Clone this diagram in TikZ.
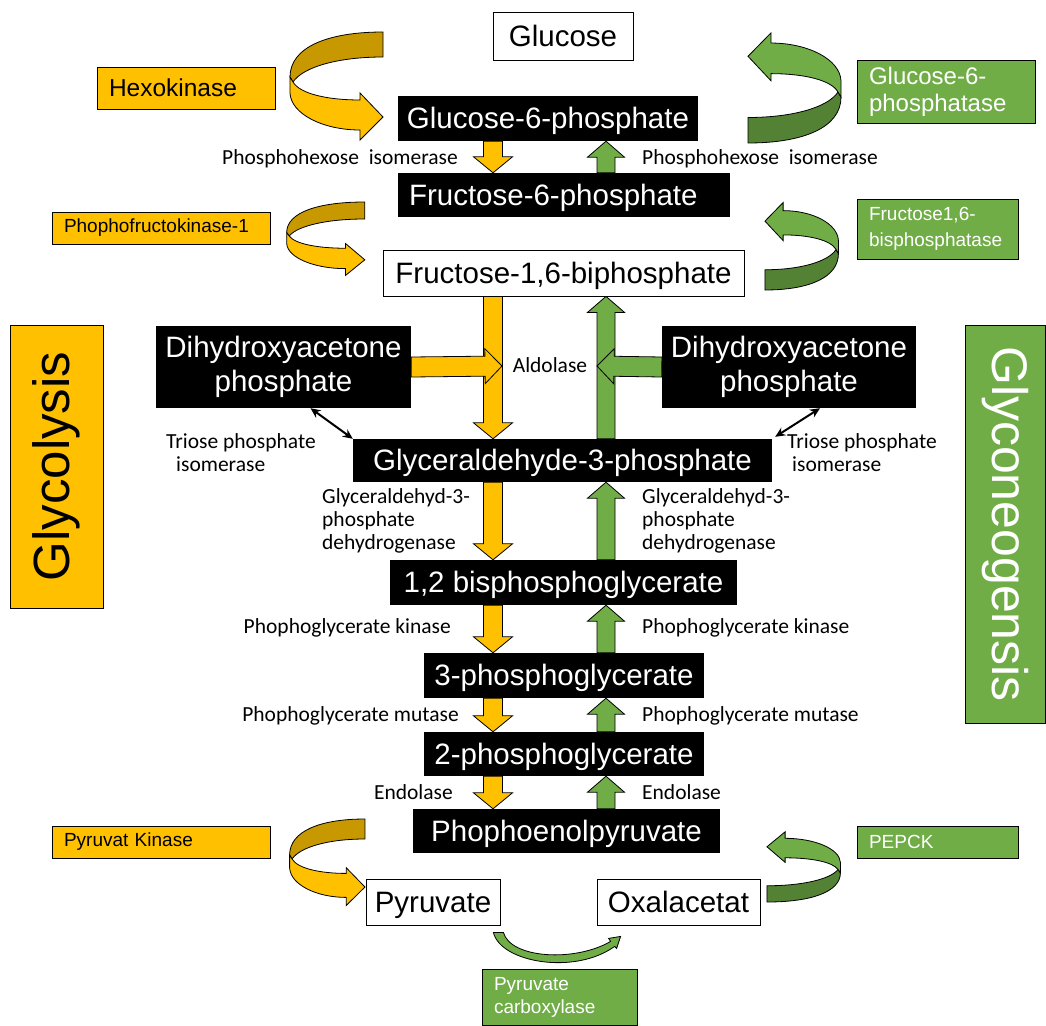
\documentclass[tikz,border=0pt]{standalone}
\usepackage{fontspec}
\setmainfont{Liberation Sans}
\newfontfamily\lblfont{Carlito}
\usepackage{tikz}
\usetikzlibrary{calc}
\usetikzlibrary{arrows.meta}

\definecolor{orng}{HTML}{FFC000}
\definecolor{orngdark}{RGB}{200,152,0}
\definecolor{grn}{HTML}{70AD47}
\definecolor{grndark}{HTML}{548235}

\tikzset{
  metab/.style={inner sep=0pt, align=center, font=\fontsize{29.5}{34}\selectfont},
  oneline/.style={text height=26.5pt, text depth=6.2pt},
  blk/.style={metab, fill=black, text=white},
  wht/.style={metab, draw=black, line width=0.8pt, fill=white},
  enz/.style={draw=black, line width=0.8pt, inner xsep=12pt, inner ysep=0pt, align=left,
    font=\fontsize{19}{23}\selectfont},
  enzgly/.style={enz, fill=orng},
  enzgng/.style={enz, fill=grn, text=white},
  lbl/.style={inner sep=0pt, font=\lblfont\fontsize{21.5}{23}\selectfont},
  blockarr/.style={draw=black, line width=0.8pt, line join=miter},
  tpi/.style={{Stealth[length=10pt,width=9pt]}-{Stealth[length=10pt,width=9pt]}, line width=2pt},
  pics/curl/.style 2 args={code={
    \filldraw[blockarr, fill=#1] (95,0) .. controls (40,0) and (2,15) .. (2,45)
      -- (5,50) .. controls (15,35) and (50,25) .. (95,25) -- cycle;
    \filldraw[blockarr, fill=#2] (2,45) -- (2,61) .. controls (3,82) and (35,98) .. (72,98)
      -- (72,108) -- (95,85) -- (72,61) -- (72,68) .. controls (40,68) and (12,62) .. (5,50) -- cycle;
  }}
}

% block arrow: [fill], tail, tip, half shaft, half head, head length
\newcommand\blockarrow[6][]{%
  \coordinate (ba-t) at (#2);
  \coordinate (ba-h) at (#3);
  \coordinate (ba-b) at ($(ba-h)!#6!(ba-t)$);
  \filldraw[blockarr,#1] ($(ba-t)!#4!90:(ba-h)$) -- ($(ba-b)!#4!90:(ba-h)$)
    -- ($(ba-b)!#5!90:(ba-h)$) -- (ba-h) -- ($(ba-b)!#5!-90:(ba-h)$)
    -- ($(ba-b)!#4!-90:(ba-h)$) -- ($(ba-t)!#4!-90:(ba-h)$) -- cycle;
}
\newcommand\glyarrow[2]{\blockarrow[fill=orng]{#1}{#2}{9.5pt}{19.5pt}{16pt}}
\newcommand\gngarrow[2]{\blockarrow[fill=grn]{#1}{#2}{9pt}{18.5pt}{16pt}}

\begin{document}
\begin{tikzpicture}[x=1pt,y=-1pt]
  \useasboundingbox (0,0) rectangle (1046,1025);
  \fill[white] (0,0) rectangle (1046,1025);

  % Metabolites
  \node[wht, oneline, minimum width=140pt, minimum height=48pt] (glc) at (563,36) {Glucose};
  \node[blk, oneline, minimum width=300pt, minimum height=45pt] (g6p) at (548,118.5) {Glucose-6-phosphate};
  \node[blk, oneline, text width=310pt, inner xsep=11pt, align=left, minimum height=44pt] (f6p) at (564,195) {Fructose-6-phosphate};
  \node[wht, oneline, minimum width=361pt, minimum height=46pt] (f16bp) at (563.5,273) {Fructose-1,6-biphosphate};
  \node[blk, minimum width=255pt, minimum height=82pt] (dhapL) at (283.5,367) {Dihydroxyacetone\\phosphate};
  \node[blk, minimum width=254pt, minimum height=82pt] (dhapR) at (789,367) {Dihydroxyacetone\\phosphate};
  \node[blk, oneline, minimum width=419pt, minimum height=43pt] (gap) at (562.5,460.5) {Glyceraldehyde-3-phosphate};
  \node[blk, oneline, minimum width=347pt, minimum height=45pt] (bpg) at (563.5,582.5) {1,2 bisphosphoglycerate};
  \node[blk, oneline, minimum width=280pt, minimum height=45pt] (pg3) at (564,675.5) {3-phosphoglycerate};
  \node[blk, oneline, minimum width=280pt, minimum height=44pt] (pg2) at (564,754) {2-phosphoglycerate};
  \node[blk, oneline, minimum width=307pt, minimum height=44pt] (pep) at (566.5,831) {Phophoenolpyruvate};
  \node[wht, oneline, minimum width=134pt, minimum height=46pt] (pyr) at (433,902) {Pyruvate};
  \node[wht, oneline, minimum width=163pt, minimum height=46pt] (oaa) at (678.5,902) {Oxalacetat};

  % Enzymes
  \node[enzgly, text width=154pt, minimum height=42pt, font=\fontsize{24.5}{28}\selectfont] (hexo) at (186,88) {Hexokinase};
  \node[enzgly, text width=194pt, minimum height=32pt] (pfk) at (161,228) {Phophofructokinase-1};
  \node[enzgly, text width=194pt, minimum height=32pt] (pyrk) at (161,842) {Pyruvat Kinase};
  \node[enzgng, text width=154pt, minimum height=63pt, font=\fontsize{24}{27}\selectfont] (g6pase) at (946,91.5) {Glucose-6-\\phosphatase};
  \node[enzgng, text width=137pt, minimum height=60pt, font=\fontsize{19}{26}\selectfont] (f16bpase) at (937.5,229) {Fructose1,6-\\bisphosphatase};
  \node[enzgng, text width=137pt, minimum height=32pt] (pepck) at (937.5,842) {PEPCK};
  \node[enzgng, text width=131pt, minimum height=56pt] (pc) at (559.5,997) {Pyruvate\\carboxylase};

  % Pathway banners
  \node[draw=black, fill=orng, inner sep=0pt, minimum width=283pt, minimum height=93pt, rotate=90,
    font=\fontsize{51}{51}\selectfont] (glycolysis) at (56.5,466.5) {Glycolysis};
  \node[draw=black, fill=grn, text=white, inner sep=0pt, minimum width=398pt, minimum height=80pt, rotate=-90,
    font=\fontsize{50}{50}\selectfont] (gluconeo) at (1005,524) {Glyconeogensis};

  % Straight steps
  \coordinate (glyx) at (493,0);
  \coordinate (gngx) at (606,0);
  \glyarrow{glyx |- g6p.south}{glyx |- f6p.north}
  \glyarrow{glyx |- f16bp.south}{glyx |- gap.north}
  \glyarrow{glyx |- gap.south}{glyx |- bpg.north}
  \glyarrow{glyx |- bpg.south}{glyx |- pg3.north}
  \glyarrow{glyx |- pg3.south}{glyx |- pg2.north}
  \glyarrow{glyx |- pg2.south}{glyx |- pep.north}
  \gngarrow{gngx |- f6p.north}{gngx |- g6p.south}
  \gngarrow{gngx |- gap.north}{gngx |- f16bp.south}
  \gngarrow{gngx |- bpg.north}{gngx |- gap.south}
  \gngarrow{gngx |- pg3.north}{gngx |- bpg.south}
  \gngarrow{gngx |- pg2.north}{gngx |- pg3.south}
  \gngarrow{gngx |- pep.north}{gngx |- pg2.south}

  % Aldolase
  \coordinate (aldoL) at (502,366);
  \coordinate (aldoR) at (597,366);
  \blockarrow[fill=orng]{dhapL.east}{aldoL}{10pt}{17.5pt}{17pt}
  \blockarrow[fill=grn]{dhapR.west}{aldoR}{10pt}{17.5pt}{17pt}

  % Triose phosphate isomerase
  \draw[tpi] ($(dhapL.south)+(27,0)$) -- (gap.north west);
  \draw[tpi] ($(dhapR.south)+(31,0)$) -- ($(gap.north east)+(3,-2)$);

  % Irreversible steps
  \pic at (288,32) {curl={orngdark}{orng}};
  \pic[xscale=0.84, yscale=0.68] at (285,202) {curl={orngdark}{orng}};
  \pic[xscale=0.81, yscale=0.8] at (288,819) {curl={orngdark}{orng}};
  \pic[rotate=180, yscale=1.02] at (843,143) {curl={grndark}{grn}};
  \pic[rotate=180, xscale=0.79, yscale=0.81] at (840,290) {curl={grndark}{grn}};
  \pic[rotate=180, xscale=0.79, yscale=0.65] at (842,902) {curl={grndark}{grn}};

  % Pyruvate carboxylase
  \coordinate (pcL) at ($(pyr.south east)+(-7,7)$);
  \coordinate (pcR) at ($(oaa.south west)+(24,11)$);
  \filldraw[blockarr, fill=grn] (pcL) .. controls +(7,30) and +(-40,29) .. ($(pcR)+(-6,10)$)
    -- ($(pcR)+(-4,12)$) -- (pcR) -- ($(pcR)+(-12,2)$) -- ($(pcR)+(-10,5)$)
    .. controls +(-36,21) and +(7,26) .. ($(pcL)+(10,0)$) -- cycle;

  % Enzyme labels
  \node[lbl, anchor=east] (phiL) at (458,159) {Phosphohexose\ \ isomerase};
  \node[lbl, anchor=west] (phiR) at (642,159) {Phosphohexose\ \ isomerase};
  \node[lbl] (aldolase) at (550,365) {Aldolase};
  \node[lbl, anchor=west, align=left] (tpiL) at (166,453) {Triose phosphate\\\hspace*{10pt}isomerase};
  \node[lbl, anchor=west, align=left] (tpiR) at (787,453) {Triose phosphate\\\hspace*{5pt}isomerase};
  \node[lbl, anchor=west, align=left] (gapdhL) at (322,521) {Glyceraldehyd-3-\\phosphate\\dehydrogenase};
  \node[lbl, anchor=west, align=left] (gapdhR) at (642,521) {Glyceraldehyd-3-\\phosphate\\dehydrogenase};
  \node[lbl, anchor=east] (pgkL) at (451,628) {Phophoglycerate kinase};
  \node[lbl, anchor=west] (pgkR) at (642,628) {Phophoglycerate kinase};
  \node[lbl, anchor=east] (pgmL) at (459,716) {Phophoglycerate mutase};
  \node[lbl, anchor=west] (pgmR) at (642,716) {Phophoglycerate mutase};
  \node[lbl, anchor=east] (enoL) at (453,792) {Endolase};
  \node[lbl, anchor=west] (enoR) at (642,792) {Endolase};
\end{tikzpicture}
\end{document}
